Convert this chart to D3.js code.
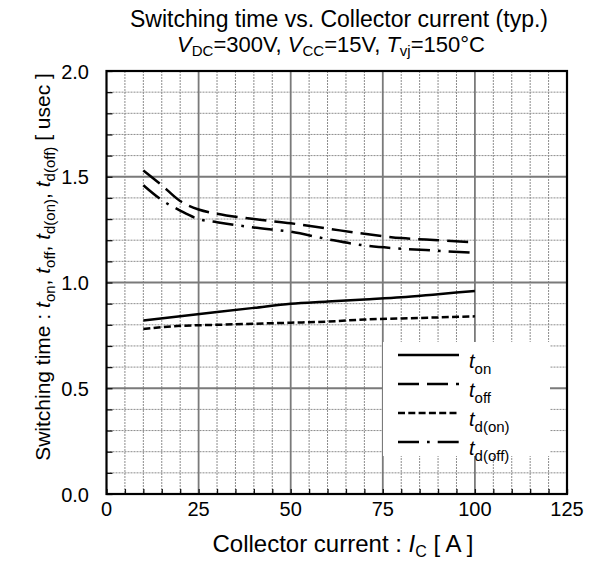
<!DOCTYPE html>
<html>
<head>
<meta charset="utf-8">
<script src="https://cdn.jsdelivr.net/npm/d3@7"></script>
<style>
  body { margin: 0; background: #fff; }
  svg text { font-family: "Liberation Sans", Arial, sans-serif; fill: #000; }
</style>
</head>
<body>
<div id="container"></div>
<script>
// values
const current = [10, 20, 30, 40, 50, 60, 70, 80, 90, 100];
const tOn   = [0.82, 0.84, 0.86, 0.88, 0.90, 0.91, 0.92, 0.93, 0.945, 0.96];
const tDon  = [0.78, 0.795, 0.80, 0.805, 0.81, 0.815, 0.825, 0.83, 0.835, 0.84];
const currentOff = [10, 15, 20, 25, 30, 40, 50, 60, 70, 80, 90, 100];
const tOff  = [1.53, 1.46, 1.385, 1.345, 1.325, 1.30, 1.28, 1.255, 1.23, 1.21, 1.20, 1.19];
const tDoff = [1.46, 1.39, 1.34, 1.30, 1.285, 1.26, 1.24, 1.205, 1.175, 1.16, 1.15, 1.14];

const xTicks = [0, 25, 50, 75, 100, 125];
const yTicks = [0.0, 0.5, 1.0, 1.5, 2.0];

const w = 593, h = 565;
const pLeft = 106.5, pRight = 567, pTop = 71, pBottom = 494;

const x = d3.scaleLinear().domain([0, 125]).range([pLeft, pRight]);
const y = d3.scaleLinear().domain([0, 2]).range([pBottom, pTop]);

const svg = d3.select("#container").append("svg")
  .attr("width", w).attr("height", h);

// minor grid
svg.append("g").selectAll("line")
  .data(d3.range(5, 125, 5).filter(v => v % 25 !== 0))
  .join("line")
  .attr("x1", d => x(d)).attr("x2", d => x(d))
  .attr("y1", pTop).attr("y2", pBottom)
  .attr("stroke", "#8c8c8c").attr("stroke-width", 1).attr("stroke-dasharray", "2,1");
svg.append("g").selectAll("line")
  .data(d3.range(1, 20).filter(v => v % 5 !== 0).map(v => v / 10))
  .join("line")
  .attr("y1", d => y(d)).attr("y2", d => y(d))
  .attr("x1", pLeft).attr("x2", pRight)
  .attr("stroke", "#8c8c8c").attr("stroke-width", 1).attr("stroke-dasharray", "2,1");

// major grid
svg.append("g").selectAll("line")
  .data([25, 50, 75, 100])
  .join("line")
  .attr("x1", d => x(d)).attr("x2", d => x(d))
  .attr("y1", pTop).attr("y2", pBottom)
  .attr("stroke", "#7a7a7a").attr("stroke-width", 1.8);
svg.append("g").selectAll("line")
  .data([0.5, 1.0, 1.5])
  .join("line")
  .attr("y1", d => y(d)).attr("y2", d => y(d))
  .attr("x1", pLeft).attr("x2", pRight)
  .attr("stroke", "#7a7a7a").attr("stroke-width", 1.8);

// inner ticks
const xAxis = d3.axisBottom(x).tickValues(d3.range(0, 130, 5)).tickSize(-5).tickFormat("");
const yAxis = d3.axisLeft(y).tickValues(d3.range(0, 21).map(v => v / 10)).tickSize(-6).tickFormat("");
svg.append("g").attr("transform", `translate(0,${pBottom})`).call(xAxis)
  .call(g => g.select(".domain").remove())
  .selectAll("line").attr("stroke", "#111").attr("stroke-width", 1.3);
svg.append("g").attr("transform", `translate(${pLeft},0)`).call(yAxis)
  .call(g => g.select(".domain").remove())
  .selectAll("line").attr("stroke", "#111").attr("stroke-width", 1.3);

// tick labels
svg.append("g").selectAll("text")
  .data(xTicks).join("text")
  .attr("x", d => x(d)).attr("y", 516)
  .attr("text-anchor", "middle").attr("font-size", 20)
  .text(d => d);
svg.append("g").selectAll("text")
  .data(yTicks).join("text")
  .attr("x", 89).attr("y", d => y(d) + 7.5)
  .attr("text-anchor", "end").attr("font-size", 20)
  .text(d => d.toFixed(1));

// curves
const line = d3.line().x(d => x(d[0])).y(d => y(d[1])).curve(d3.curveMonotoneX);
const series = [
  { xs: current, ys: tOn, dash: null, name: "on" },
  { xs: currentOff, ys: tOff, dash: "21,8", name: "off" },
  { xs: current, ys: tDon, dash: "7,3.3", name: "d(on)" },
  { xs: currentOff, ys: tDoff, dash: "21,8,2.7,8", name: "d(off)" }
];
series.forEach(s => {
  svg.append("path")
    .datum(s.xs.map((v, i) => [v, s.ys[i]]))
    .attr("d", line)
    .attr("fill", "none").attr("stroke", "#000").attr("stroke-width", 2.5)
    .attr("stroke-dasharray", s.dash);
});

// frame
svg.append("rect")
  .attr("x", pLeft).attr("y", pTop).attr("width", pRight - pLeft).attr("height", pBottom - pTop)
  .attr("fill", "none").attr("stroke", "#000").attr("stroke-width", 2.2);

// legend
const lg = svg.append("g");
lg.append("rect").attr("x", 383).attr("y", 342).attr("width", 167).attr("height", 114).attr("fill", "#fff");
series.forEach((s, i) => {
  const yy = 355 + i * 29;
  lg.append("line").attr("x1", 398).attr("x2", 459).attr("y1", yy).attr("y2", yy)
    .attr("stroke", "#000").attr("stroke-width", 2.6).attr("stroke-dasharray", s.dash);
  const t = lg.append("text").attr("x", 469).attr("y", yy + 13).attr("font-size", 20);
  t.append("tspan").attr("font-style", "italic").text("t");
  t.append("tspan").attr("dy", 6).attr("font-size", 15).text(s.name);
});

// titles
svg.append("text").attr("x", 339).attr("y", 27).attr("text-anchor", "middle")
  .attr("font-size", 23).text("Switching time vs. Collector current (typ.)");

const sub = svg.append("text").attr("x", 331).attr("y", 52).attr("text-anchor", "middle").attr("font-size", 22);
[["V", "DC", "=300V, "], ["V", "CC", "=15V, "], ["T", "vj", "=150°C"]].forEach(p => {
  sub.append("tspan").attr("font-style", "italic").text(p[0]);
  sub.append("tspan").attr("dy", 4).attr("font-size", 15).text(p[1]);
  sub.append("tspan").attr("dy", -4).text(p[2]);
});

const xt = svg.append("text").attr("x", 343).attr("y", 552).attr("text-anchor", "middle").attr("font-size", 24);
xt.append("tspan").text("Collector current : ");
xt.append("tspan").attr("font-style", "italic").text("I");
xt.append("tspan").attr("dy", 5).attr("font-size", 16).text("C");
xt.append("tspan").attr("dy", -5).text(" [ A ]");

const yt = svg.append("text")
  .attr("transform", "translate(50,267) rotate(-90)")
  .attr("text-anchor", "middle").attr("font-size", 21);
yt.append("tspan").text("Switching time : ");
[["on", ", "], ["off", ", "], ["d(on)", ", "], ["d(off)", " [ usec ]"]].forEach(p => {
  yt.append("tspan").attr("font-style", "italic").text("t");
  yt.append("tspan").attr("dy", 5).attr("font-size", 15).text(p[0]);
  yt.append("tspan").attr("dy", -5).text(p[1]);
});
</script>
</body>
</html>
